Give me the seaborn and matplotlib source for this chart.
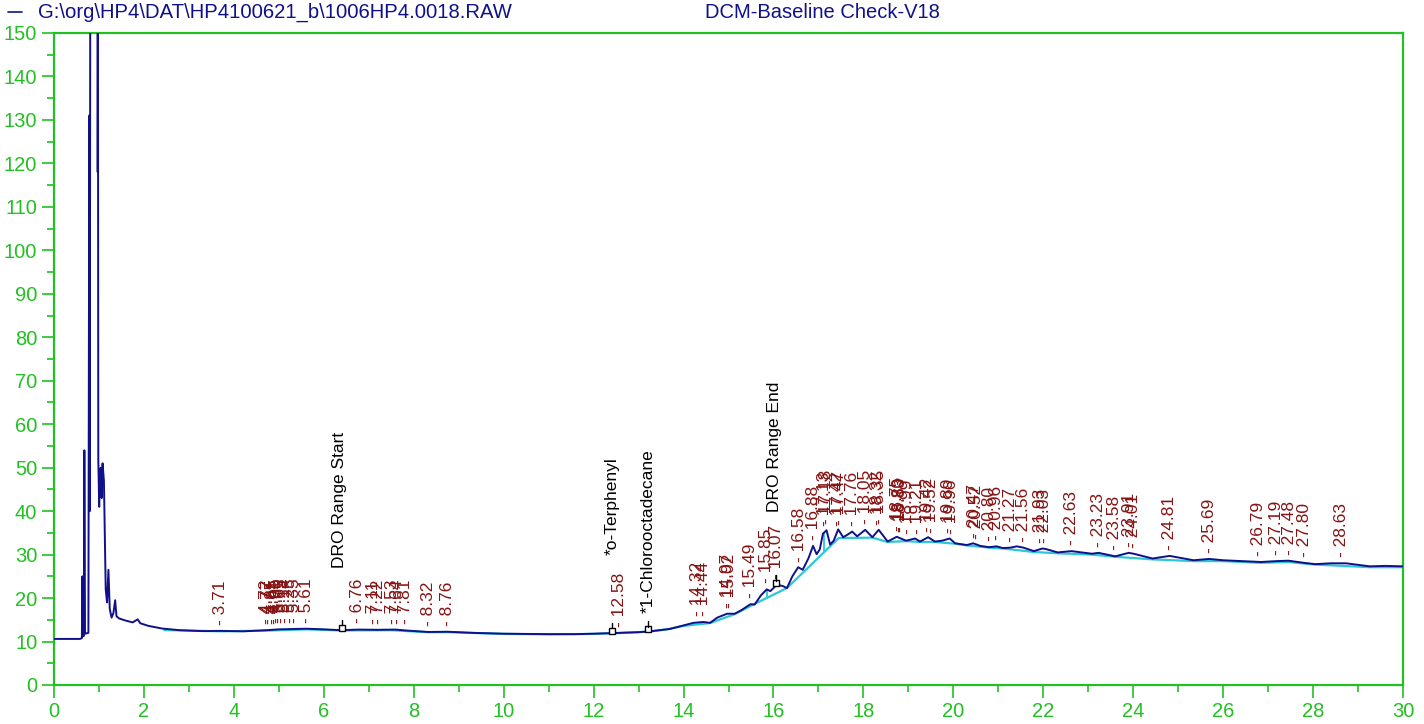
import numpy as np
import pandas as pd
import matplotlib
matplotlib.use("Agg")
import matplotlib.pyplot as plt
import seaborn as sns
from matplotlib.ticker import MultipleLocator
from matplotlib.lines import Line2D

# ---------------- data ----------------
time = [0.00, 0.58, 0.62, 0.632, 0.645, 0.665, 0.675, 0.69, 0.73, 0.765, 0.785, 0.795,
        0.81, 0.96, 0.972, 0.978, 0.985, 1.005, 1.02, 1.04, 1.06, 1.08, 1.11, 1.15, 1.18,
        1.21, 1.24, 1.28, 1.32, 1.36, 1.39, 1.45, 1.6, 1.75, 1.86, 1.92, 2.1, 2.4, 2.8,
        3.3, 3.71, 4.2, 4.72, 5.0, 5.35, 5.61, 6.0, 6.4, 6.76, 7.2, 7.6, 7.81, 8.32, 8.76,
        9.3, 10.0, 10.5, 11.0, 11.6, 12.0, 12.58, 13.0, 13.3, 13.7, 14.0, 14.22, 14.44,
        14.59, 14.75, 14.97, 15.14, 15.3, 15.49, 15.58, 15.72, 15.85, 15.93, 16.07, 16.2,
        16.3, 16.42, 16.55, 16.65, 16.78, 16.88, 16.96, 17.03, 17.1, 17.18, 17.26, 17.34,
        17.44, 17.55, 17.65, 17.75, 17.86, 18.04, 18.2, 18.34, 18.54, 18.74, 18.95, 19.15,
        19.26, 19.44, 19.59, 19.75, 19.92, 20.04, 20.3, 20.44, 20.6, 20.8, 20.96, 21.1,
        21.27, 21.41, 21.56, 21.79, 21.98, 22.05, 22.32, 22.63, 23.08, 23.23, 23.6, 23.9,
        24.01, 24.43, 24.81, 25.34, 25.69, 26.0, 26.4, 26.84, 27.19, 27.45, 27.8, 28.05,
        28.4, 28.73, 29.26, 29.6, 30.0]
signal = [10.6, 10.6, 10.8, 25.0, 11.2, 11.3, 54.0, 11.8, 11.9, 12.0, 131.0, 40.0,
          200.0, 200.0, 118.0, 150.0, 52.0, 41.0, 48.0, 50.0, 43.0, 51.0, 47.0, 22.0, 19.0,
          26.5, 17.5, 15.5, 16.5, 19.5, 15.8, 15.3, 14.8, 14.4, 15.1, 14.2, 13.6, 13.0, 12.6,
          12.4, 12.45, 12.35, 12.6, 12.8, 12.9, 12.95, 12.8, 12.6, 12.75, 12.7, 12.75, 12.55,
          12.2, 12.25, 12.0, 11.8, 11.75, 11.7, 11.7, 11.8, 12.0, 12.15, 12.4, 12.9, 13.7,
          14.3, 14.5, 14.3, 15.5, 16.4, 16.4, 17.3, 18.6, 18.5, 20.6, 22.0, 21.6, 23.0, 22.8,
          22.3, 25.0, 27.1, 26.5, 29.2, 32.0, 30.1, 31.2, 34.8, 35.6, 32.3, 33.2,
          35.8, 34.0, 34.6, 35.3, 34.2, 35.7, 34.0, 35.7, 33.0, 34.1, 33.2, 33.7,
          33.0, 34.0, 33.0, 33.2, 33.7, 32.6, 32.2, 32.6, 32.0, 31.7, 31.9, 31.5,
          31.6, 31.9, 31.6, 30.8, 31.4, 31.3, 30.5, 30.8, 30.2, 30.4, 29.6, 30.4,
          30.2, 29.1, 29.7, 28.7, 29.0, 28.7, 28.5, 28.3, 28.5, 28.6, 28.1, 27.8,
          28.0, 28.0, 27.3, 27.4, 27.3]

base_time = [2.45, 3.71, 4.7, 5.6, 6.4, 7.5, 8.3, 8.76, 10.0, 11.0, 12.0, 12.58, 13.2,
             13.6, 14.0, 14.59, 15.14, 15.55, 16.3, 17.45, 18.2, 18.54, 18.95, 19.26,
             19.59, 20.04, 20.3, 20.8, 21.1, 21.79, 22.32, 23.08, 23.6, 24.43, 25.34,
             26.0, 26.84, 27.45, 28.05, 29.26, 30.0]
base_signal = [12.65, 12.35, 12.5, 12.8, 12.55, 12.6, 12.15, 12.15, 11.75, 11.65, 11.75,
               11.95, 12.25, 12.75, 13.6, 14.25, 16.3, 18.5, 22.3, 33.8, 33.9, 32.9, 33.1,
               32.9, 32.9, 32.5, 32.1, 31.6, 31.4, 30.6, 30.3, 30.0, 29.5, 28.9, 28.5,
               28.5, 28.1, 28.3, 27.7, 27.1, 27.1]
drop_times = [15.85, 17.12]

peak_labels = ["3.71", "4.72", "4.77", "4.85", "4.91", "4.95", "5.00", "5.05", "5.14",
               "5.25", "5.35", "5.61", "6.76", "7.11", "7.22", "7.53", "7.64", "7.81",
               "8.32", "8.76", "12.58", "14.32", "14.44", "14.97", "15.02", "15.49",
               "15.85", "16.07", "16.58", "16.88", "17.13", "17.18", "17.42", "17.47",
               "17.76", "18.05", "18.32", "18.35", "18.75", "18.80", "18.83", "18.99",
               "19.21", "19.42", "19.52", "19.89", "19.96", "20.47", "20.52", "20.80",
               "20.96", "21.27", "21.56", "21.93", "22.03", "22.63", "23.23", "23.58",
               "23.91", "24.01", "24.81", "25.69", "26.79", "27.19", "27.48", "27.80",
               "28.63"]

event_names = ["DRO Range Start", "*o-Terphenyl", "*1-Chlorooctadecane", "DRO Range End"]
event_times = [6.40, 12.40, 13.22, 16.06]
event_text_times = [6.36, 12.41, 13.21, 16.03]
event_text_bottom = [26.9, 29.9, 16.6, 39.8]

header_file = r"G:\org\HP4\DAT\HP4100621_b\1006HP4.0018.RAW"
header_title = "DCM-Baseline Check-V18"

# ---------------- style ----------------
NAVY = "#10108a"
CYAN = "#2cc8d4"
GREEN = "#22c022"
RED = "#861414"

sns.set_theme(style="white")
plt.rcParams["font.family"] = ["Liberation Sans", "DejaVu Sans"]

fig = plt.figure(figsize=(14.24, 7.24), dpi=100)
ax = fig.add_axes([54 / 1424, 39 / 724, (1403 - 54) / 1424, (685 - 33) / 724])

trace = pd.DataFrame({"t": time, "y": signal})
base = pd.DataFrame({"t": base_time, "y": base_signal})

sns.lineplot(data=base, x="t", y="y", ax=ax, color=CYAN, lw=1.6, sort=False,
             estimator=None, zorder=2)
sns.lineplot(data=trace, x="t", y="y", ax=ax, color=NAVY, lw=1.4, sort=False,
             estimator=None, zorder=3)

# baseline drop lines
for td in drop_times:
    ax.vlines(td, np.interp(td, base_time, base_signal), np.interp(td, time, signal),
              color=CYAN, lw=1.3, zorder=2)

# peak labels
for lab in peak_labels:
    t = float(lab)
    yv = np.interp(t, time, signal)
    ax.text(t, yv + 1.4, "- " + lab, rotation=90, ha="center", va="bottom",
            color=RED, fontsize=12.5, zorder=4)

# event markers
for name, te, tt, yb in zip(event_names, event_times, event_text_times, event_text_bottom):
    yv = np.interp(te, time, signal)
    ax.plot([te], [yv + 0.5], marker="s", ms=5, mfc="white", mec="black", mew=1.0,
            zorder=5)
    ax.plot([te, te], [yv + 1.1, yv + 2.4], color="black", lw=1.0, zorder=5)
    ax.text(tt, yb, name, rotation=90, ha="center", va="bottom", color="black",
            fontsize=12.5, zorder=5)

ax.set_xlim(0, 30)
ax.set_ylim(0, 150)
ax.set_xlabel("")
ax.set_ylabel("")
ax.xaxis.set_major_locator(MultipleLocator(2))
ax.xaxis.set_minor_locator(MultipleLocator(1))
ax.yaxis.set_major_locator(MultipleLocator(10))
ax.yaxis.set_minor_locator(MultipleLocator(5))
ax.tick_params(which="major", direction="out", length=9, width=1.2, color=GREEN,
               labelcolor=GREEN, labelsize=14.5, pad=3, bottom=True, left=True)
ax.tick_params(which="minor", direction="out", length=5, width=1.2, color=GREEN,
               bottom=True, left=True)
for sp in ax.spines.values():
    sp.set_color(GREEN)
    sp.set_linewidth(1.6)
    sp.set_visible(True)
ax.grid(False)

# header
fig.add_artist(Line2D([8 / 1424, 22 / 1424], [1 - 12 / 724, 1 - 12 / 724],
                      color=NAVY, lw=1.2, transform=fig.transFigure))
fig.text(38 / 1424, 1 - 12 / 724, header_file, color=NAVY, fontsize=14.6,
         ha="left", va="center")
fig.text(705 / 1424, 1 - 12 / 724, header_title, color=NAVY, fontsize=14.5,
         ha="left", va="center")

fig.savefig("out.png", dpi=100, facecolor="white")
